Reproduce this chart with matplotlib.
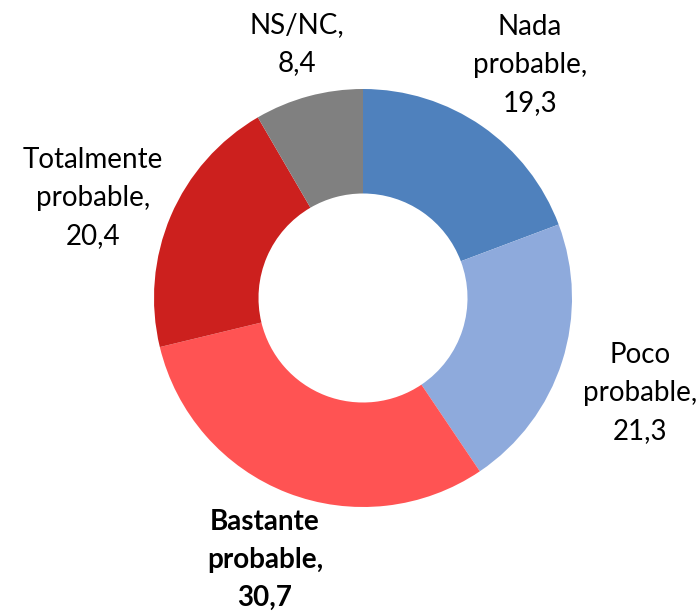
import matplotlib
matplotlib.use("Agg")
import matplotlib.pyplot as plt

# data
categories = ["Nada\nprobable,", "Poco\nprobable,", "Bastante\nprobable,", "Totalmente\nprobable,", "NS/NC,"]
values = [19.3, 21.3, 30.7, 20.4, 8.4]
colors = ["#4F81BD", "#8EAADC", "#FF5353", "#CC201E", "#808080"]
bold = [False, False, True, False, False]

# label centres in pixels (x from left, y from top)
label_pos = [(530, 65), (640, 393), (265, 560), (93, 198), (297, 44)]

W, H = 698, 612
fig = plt.figure(figsize=(W / 100, H / 100), dpi=100)

cx, cy, r = 363, 298, 209
ax = fig.add_axes([(cx - r) / W, (H - cy - r) / H, 2 * r / W, 2 * r / H])
ax.pie(values, colors=colors, startangle=90, counterclock=False, radius=1,
       wedgeprops=dict(width=0.5, edgecolor="none"))
ax.set_xlim(-1, 1)
ax.set_ylim(-1, 1)
ax.set_aspect("equal")
ax.axis("off")

for cat, val, b, (px, py) in zip(categories, values, bold, label_pos):
    txt = f"{cat}\n{val:.1f}".replace(".", ",")
    fig.text(px / W, 1 - py / H, txt, ha="center", va="center", fontsize=20,
             family="Lato", fontweight="bold" if b else "normal",
             linespacing=1.58, color="black")

fig.savefig("out.png", dpi=100)
